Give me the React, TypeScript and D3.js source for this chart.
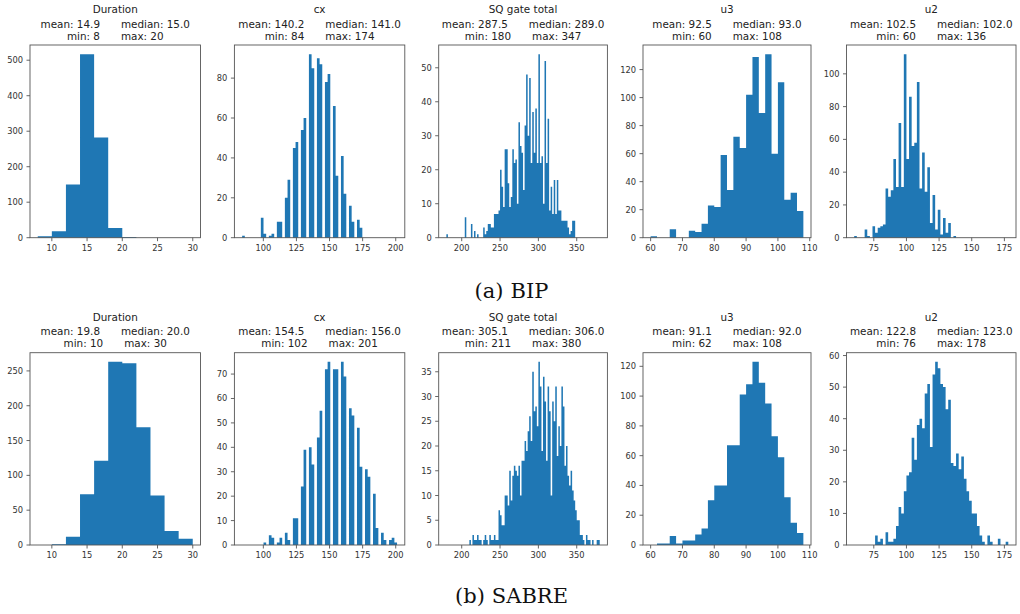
import React from 'react';
import * as d3 from 'd3';

// ---------- data ----------
const panelTitles = ['Duration', 'cx', 'SQ gate total', 'u3', 'u2'];

const bipMean = [14.9, 140.2, 287.5, 92.5, 102.5];
const bipMedian = [15.0, 141.0, 289.0, 93.0, 102.0];
const bipMin = [8, 84, 180, 60, 60];
const bipMax = [20, 174, 347, 108, 136];

const sabreMean = [19.8, 154.5, 305.1, 91.1, 122.8];
const sabreMedian = [20.0, 156.0, 306.0, 92.0, 123.0];
const sabreMin = [10, 102, 211, 62, 76];
const sabreMax = [30, 201, 380, 108, 178];

// bin ranges [lo, hi, nBins] shared by both rows
const binLo = [8, 84, 180, 60, 60];
const binHi = [30, 201, 380, 108, 178];
const binN = [11, 58, 100, 24, 59];

// Duration: counts per bin (width 2 from 8)
const durationBIP = [4, 18, 150, 517, 282, 27, 2, 0, 0, 0, 0];
const durationSABRE = [0, 1, 12, 73, 121, 263, 261, 169, 71, 20, 9];

// cx: distinct values (multiples of 3) and counts
const cxValuesBIP = [84, 99, 102, 105, 108, 111, 114, 117, 120, 123, 126, 129, 132, 135, 138, 141, 144, 147, 150, 153, 156, 159, 162, 165, 168, 171, 174];
const cxCountsBIP = [1, 10, 2, 1, 2, 8, 8, 20, 29, 45, 48, 54, 60, 92, 85, 90, 87, 78, 82, 66, 31, 41, 22, 16, 8, 9, 5];
const cxValuesSABRE = [102, 105, 108, 111, 114, 117, 120, 123, 126, 129, 132, 135, 138, 141, 144, 147, 150, 153, 156, 159, 162, 165, 168, 171, 174, 177, 180, 183, 186, 189, 192, 195, 198, 201];
const cxCountsSABRE = [1, 4, 3, 1, 3, 5, 2, 11, 11, 24, 39, 40, 33, 44, 55, 72, 75, 72, 72, 75, 69, 56, 53, 48, 32, 31, 28, 21, 7, 5, 2, 2, 3, 1];

// SQ gate total: counts per bin (width 2 from 180)
const sqBIP = [
  1, 0, 0, 0, 0, 0, 0, 0, 0, 0,
  0, 0, 6, 0, 0, 0, 4, 0, 2, 0,
  1, 0, 0, 0, 3, 1, 2, 4, 4, 3,
  3, 7, 7, 7, 8, 20, 15, 9, 26, 26,
  16, 9, 12, 26, 22, 23, 10, 34, 27, 25,
  14, 33, 48, 30, 47, 22, 37, 25, 38, 22,
  54, 22, 24, 10, 52, 22, 35, 8, 15, 7,
  17, 7, 17, 8, 8, 5, 5, 5, 5, 3,
  1, 2, 5, 5, 0, 0, 0, 0, 0, 0,
  0, 0, 0, 0, 0, 0, 0, 0, 0, 0,
];
const sqSABRE = [
  0, 0, 0, 0, 0, 0, 0, 0, 0, 0,
  0, 0, 0, 0, 0, 1, 0, 2, 1, 1,
  2, 1, 1, 0, 1, 2, 1, 0, 2, 1,
  1, 2, 1, 1, 7, 6, 4, 4, 10, 10,
  8, 15, 9, 14, 16, 15, 14, 16, 10, 17,
  17, 21, 19, 23, 26, 21, 35, 27, 28, 24,
  37, 32, 19, 34, 29, 17, 32, 27, 10, 29,
  25, 32, 18, 24, 20, 32, 28, 16, 20, 14,
  12, 15, 11, 9, 7, 5, 5, 2, 2, 1,
  0, 2, 1, 1, 0, 1, 0, 0, 1, 1,
];

// u3: counts per bin (width 2 from 60)
const u3BIP = [1, 0, 0, 6, 0, 0, 5, 4, 10, 23, 22, 59, 34, 72, 64, 102, 129, 89, 131, 60, 111, 27, 32, 19];
const u3SABRE = [0, 1, 1, 6, 1, 3, 3, 7, 11, 30, 40, 40, 67, 67, 101, 108, 123, 109, 95, 73, 59, 32, 15, 8];

// u2: counts per bin (width 2 from 60)
const u2BIP = [
  1, 0, 0, 0, 5, 1, 0, 7, 3, 6,
  7, 8, 30, 25, 29, 48, 31, 70, 31, 112,
  48, 86, 56, 58, 95, 30, 52, 28, 43, 9,
  26, 5, 17, 2, 12, 3, 9, 0, 1, 0,
  0, 0, 0, 0, 0, 0, 0, 0, 0, 0,
  0, 0, 0, 0, 0, 0, 0, 0, 0,
];
const u2SABRE = [
  0, 0, 0, 0, 0, 0, 0, 0, 3, 1,
  2, 0, 4, 1, 1, 2, 6, 12, 10, 17,
  22, 23, 34, 27, 38, 40, 37, 48, 51, 31,
  54, 58, 56, 51, 50, 43, 46, 26, 25, 29,
  24, 28, 21, 17, 14, 10, 10, 6, 3, 1,
  0, 3, 1, 0, 0, 2, 0, 0, 1,
];

// tick labels
const xTicks = [
  [10, 15, 20, 25, 30],
  [100, 125, 150, 175, 200],
  [200, 250, 300, 350],
  [60, 70, 80, 90, 100, 110],
  [75, 100, 125, 150, 175],
];
const yTicksBIP = [
  [0, 100, 200, 300, 400, 500],
  [0, 20, 40, 60, 80],
  [0, 10, 20, 30, 40, 50],
  [0, 20, 40, 60, 80, 100, 120],
  [0, 20, 40, 60, 80, 100],
];
const yTicksSABRE = [
  [0, 50, 100, 150, 200, 250],
  [0, 10, 20, 30, 40, 50, 60, 70],
  [0, 5, 10, 15, 20, 25, 30, 35],
  [0, 20, 40, 60, 80, 100, 120],
  [0, 10, 20, 30, 40, 50, 60],
];

const captions = ['(a)', 'BIP', '(b)', 'SABRE'];

// ---------- layout ----------
const colLeft = [30, 234.4, 438.7, 643, 846.5];
const colRight = [200.5, 404.8, 607.4, 811, 1016];
const rowTop = [45, 352.7];
const rowBottom = [237.7, 545];

const BAR = '#1f77b4';
const SPINE = '#555';
const SANS = 'DejaVu Sans, sans-serif';

function binValues(values: number[], counts: number[], lo: number, hi: number, n: number) {
  const out = new Array(n).fill(0);
  const w = (hi - lo) / n;
  values.forEach((v, k) => {
    let i = Math.floor((v - lo) / w);
    if (i >= n) i = n - 1;
    if (i < 0) i = 0;
    out[i] += counts[k];
  });
  return out;
}

type HistProps = {
  col: number;
  row: number;
  counts: number[];
  yTicks: number[];
  title: string;
  mean: number;
  median: number;
  min: number;
  max: number;
};

function Hist({ col, row, counts, yTicks, title, mean, median, min, max }: HistProps) {
  const lo = binLo[col];
  const hi = binHi[col];
  const n = counts.length;
  const pad = 0.05 * (hi - lo);
  const left = colLeft[col];
  const right = colRight[col];
  const top = rowTop[row];
  const bottom = rowBottom[row];
  const x = d3.scaleLinear().domain([lo - pad, hi + pad]).range([left, right]);
  const ymax = (d3.max(counts) as number) * 1.05;
  const y = d3.scaleLinear().domain([0, ymax]).range([bottom, top]);
  const w = (hi - lo) / n;
  const cx = (left + right) / 2;

  // step outline of the histogram, one solid shape
  const p = d3.path();
  p.moveTo(x(lo), y(0));
  counts.forEach((c, i) => {
    p.lineTo(x(lo + i * w), y(c));
    p.lineTo(x(lo + (i + 1) * w), y(c));
  });
  p.lineTo(x(hi), y(0));
  p.closePath();

  return (
    <g>
      <path d={p.toString()} fill={BAR} stroke="none" />
      <rect x={left} y={top} width={right - left} height={bottom - top} fill="none" stroke={SPINE} strokeWidth={0.9} />
      {xTicks[col].map((t) => (
        <g key={'x' + t}>
          <line x1={x(t)} x2={x(t)} y1={bottom} y2={bottom + 3.5} stroke={SPINE} strokeWidth={0.9} />
          <text x={x(t)} y={bottom + 13.3} textAnchor="middle" fontSize={8.3} fill="#333" fontFamily={SANS}>
            {t}
          </text>
        </g>
      ))}
      {yTicks.map((t) => (
        <g key={'y' + t}>
          <line x1={left - 3.5} x2={left} y1={y(t)} y2={y(t)} stroke={SPINE} strokeWidth={0.9} />
          <text x={left - 7} y={y(t) + 3} textAnchor="end" fontSize={8.3} fill="#333" fontFamily={SANS}>
            {t}
          </text>
        </g>
      ))}
      <text x={cx} y={top - 32} textAnchor="middle" fontSize={10.4} fill="#222" fontFamily={SANS}>
        {title}
      </text>
      <text x={cx} y={top - 17.5} textAnchor="middle" fontSize={10.4} fill="#222" fontFamily={SANS}>
        <tspan>{'mean: ' + mean.toFixed(1)}</tspan>
        <tspan dx={21}>{'median: ' + median.toFixed(1)}</tspan>
      </text>
      <text x={cx} y={top - 5.5} textAnchor="middle" fontSize={10.4} fill="#222" fontFamily={SANS}>
        <tspan>{'min: ' + min}</tspan>
        <tspan dx={21}>{'max: ' + max}</tspan>
      </text>
    </g>
  );
}

export default function App() {
  const bipCounts = [
    durationBIP,
    binValues(cxValuesBIP, cxCountsBIP, binLo[1], binHi[1], binN[1]),
    sqBIP,
    u3BIP,
    u2BIP,
  ];
  const sabreCounts = [
    durationSABRE,
    binValues(cxValuesSABRE, cxCountsSABRE, binLo[1], binHi[1], binN[1]),
    sqSABRE,
    u3SABRE,
    u2SABRE,
  ];
  return (
    <svg
      width={1020}
      height={614}
      viewBox="0 0 1020 614"
      style={{ position: 'absolute', left: 0, top: 0, background: '#fff' }}
    >
      <rect x={0} y={0} width={1020} height={614} fill="#fff" />
      {panelTitles.map((t, c) => (
        <Hist
          key={'b' + c}
          col={c}
          row={0}
          counts={bipCounts[c]}
          yTicks={yTicksBIP[c]}
          title={t}
          mean={bipMean[c]}
          median={bipMedian[c]}
          min={bipMin[c]}
          max={bipMax[c]}
        />
      ))}
      {panelTitles.map((t, c) => (
        <Hist
          key={'s' + c}
          col={c}
          row={1}
          counts={sabreCounts[c]}
          yTicks={yTicksSABRE[c]}
          title={t}
          mean={sabreMean[c]}
          median={sabreMedian[c]}
          min={sabreMin[c]}
          max={sabreMax[c]}
        />
      ))}
      <text x={511.5} y={297.5} textAnchor="middle" fontSize={21} fill="#111" fontFamily="DejaVu Serif, serif">
        <tspan>{captions[0]}</tspan>
        <tspan dx={7}>{captions[1]}</tspan>
      </text>
      <text x={511.5} y={602.5} textAnchor="middle" fontSize={21} fill="#111" fontFamily="DejaVu Serif, serif">
        <tspan>{captions[2]}</tspan>
        <tspan dx={7}>{captions[3]}</tspan>
      </text>
    </svg>
  );
}
